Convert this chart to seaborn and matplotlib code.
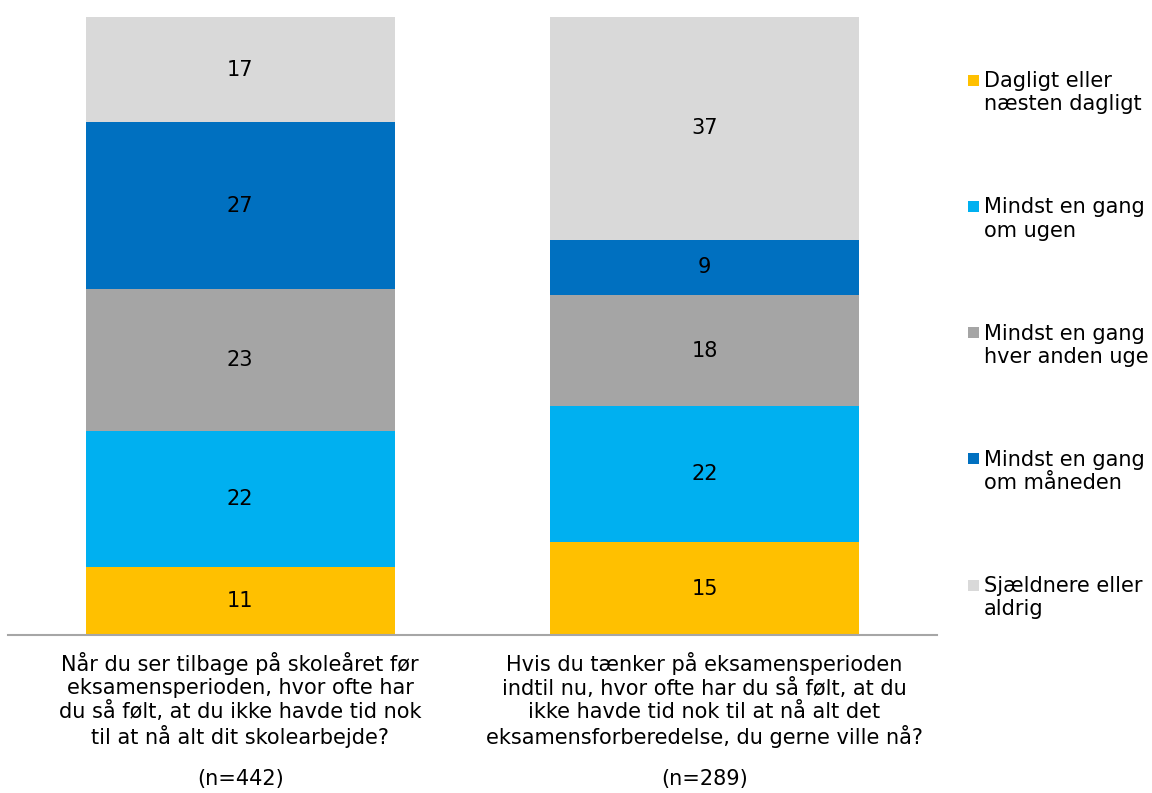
import matplotlib
matplotlib.use("Agg")
import matplotlib.pyplot as plt
import seaborn as sns
import pandas as pd
from matplotlib.patches import Rectangle

# Survey questions (x categories) and response frequencies (percent)
questions = [
    "Når du ser tilbage på skoleåret før\neksamensperioden, hvor ofte har\ndu så følt, at du ikke havde tid nok\ntil at nå alt dit skolearbejde?",
    "Hvis du tænker på eksamensperioden\nindtil nu, hvor ofte har du så følt, at du\nikke havde tid nok til at nå alt det\neksamensforberedelse, du gerne ville nå?",
]
sample_sizes = ["(n=442)", "(n=289)"]
responses = [
    "Dagligt eller\nnæsten dagligt",
    "Mindst en gang\nom ugen",
    "Mindst en gang\nhver anden uge",
    "Mindst en gang\nom måneden",
    "Sjældnere eller\naldrig",
]
daily = [11, 15]
weekly = [22, 22]
biweekly = [23, 18]
monthly = [27, 9]
rarely = [17, 37]
colors = ["#FFC000", "#00B0F0", "#A5A5A5", "#0070C0", "#D9D9D9"]

series = [daily, weekly, biweekly, monthly, rarely]
rows = []
for resp, vals in zip(responses, series):
    for q, v in zip(questions, vals):
        rows.append({"question": q, "response": resp, "value": v})
df = pd.DataFrame(rows)

sns.set_theme(style="white")
plt.rcParams["font.family"] = ["DejaVu Sans"]
plt.rcParams["text.color"] = "#000000"

W, H = 1152, 793
fig = plt.figure(figsize=(W / 100, H / 100), dpi=100)
ax = fig.add_axes([0.007, 0.199, 0.806, 1 - 17 / H - 0.199])

FS = 15
bottoms = [0.0] * len(questions)
for resp, color in zip(responses, colors):
    sub = df[df["response"] == resp]
    sns.barplot(data=sub, x="question", y="value", order=questions,
                color=color, width=0.666, bottom=bottoms, ax=ax,
                saturation=1, errorbar=None, linewidth=0)
    container = ax.containers[-1]
    ax.bar_label(container, labels=[str(v) for v in sub["value"]],
                 label_type="center", fontsize=FS, color="#000000")
    bottoms = [b + v for b, v in zip(bottoms, sub["value"])]

ax.set_xlim(-0.5, 1.5)
ax.set_ylim(0, 100)
ax.set_xlabel("")
ax.set_ylabel("")
ax.set_yticks([])
ax.tick_params(axis="x", length=0, pad=12, labelsize=FS, colors="#000000")
ax.set_xticks(range(len(questions)))
ax.set_xticklabels(questions, linespacing=1.18)
for s in ["top", "right", "left"]:
    ax.spines[s].set_visible(False)
ax.spines["bottom"].set_color("#A6A6A6")
ax.spines["bottom"].set_linewidth(1.5)

for i, n in enumerate(sample_sizes):
    ax.annotate(n, xy=(i, 0), xycoords=("data", "axes fraction"),
                xytext=(0, -144), textcoords="offset pixels",
                ha="center", va="center", fontsize=FS, color="#000000")

# Legend: colour square beside the first line of each two-line label
LINE_STEP = 23.3
for i, (resp, color) in enumerate(zip(responses, colors)):
    yc = 80 + 126.25 * i
    fig.add_artist(Rectangle((968 / W, 1 - (yc + 5.5) / H), 11 / W, 11 / H,
                             transform=fig.transFigure, facecolor=color,
                             edgecolor="none"))
    n_lines = resp.count("\n") + 1
    fig.text(984 / W, 1 - (yc + 7 + LINE_STEP * (n_lines - 1)) / H, resp,
             ha="left", va="baseline", fontsize=FS, color="#000000",
             linespacing=1.2)

fig.savefig("out.png", dpi=100, facecolor="white")
